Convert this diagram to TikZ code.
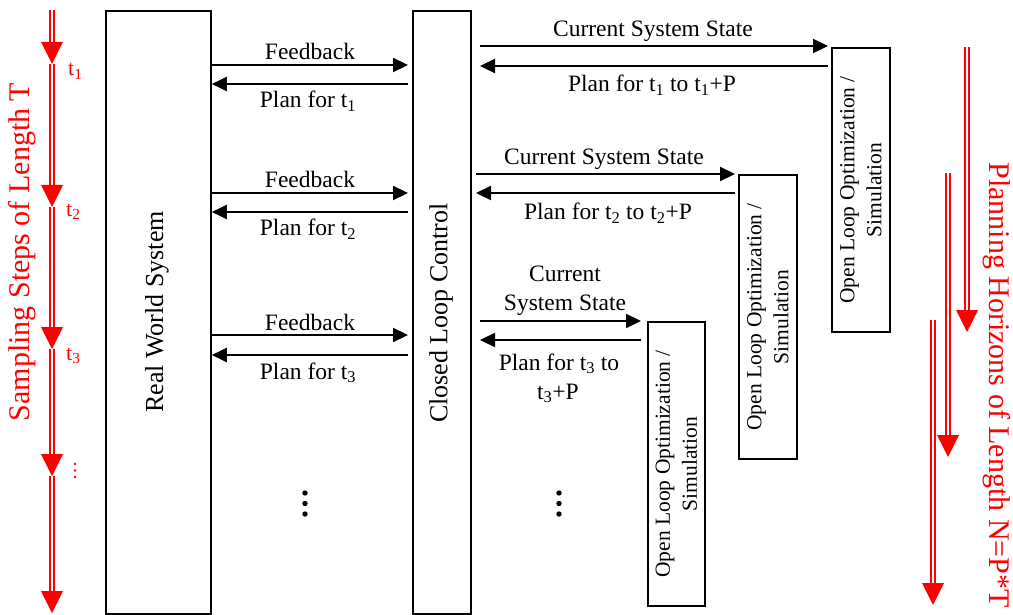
\documentclass[tikz,border=0pt]{standalone}
\usepackage{fontspec}
\setmainfont{Liberation Serif}
\usetikzlibrary{arrows.meta}
\begin{document}
\begin{tikzpicture}[x=1pt,y=-1pt,
  box/.style={draw, line width=1.8pt, inner sep=0pt, anchor=north west},
  boxtext/.style={rotate=90, inner sep=0pt, font=\fontsize{26}{30}\selectfont},
  olotext/.style={rotate=90, inner sep=0pt, align=center, font=\fontsize{21.5}{27}\selectfont},
  arr/.style={line width=2.2pt, -{Triangle[length=15pt,width=14pt]}},
  lbl/.style={inner sep=0pt, anchor=base, font=\fontsize{23.5}{28}\selectfont},
  rshaft/.style={draw=red, double=white, double distance=2.3pt, line width=2.3pt, shorten >=18pt},
  redhead/.style={fill=red},
  tlbl/.style={red, inner sep=0pt, anchor=base west, font=\fontsize{22}{26}\selectfont}]
\useasboundingbox (0,0) rectangle (1013,615);

% boxes
\node[box, minimum width=105pt, minimum height=603pt] (rws) at (105,10) {};
\node[boxtext] (rwst) at (157,312) {Real World System};
\node[box, minimum width=58pt, minimum height=603pt] (clc) at (412,10) {};
\node[boxtext] (clct) at (441,313) {Closed Loop Control};
\node[box, minimum width=58pt, minimum height=284pt] (olo1) at (831,47) {};
\node[olotext] (olo1t) at (olo1.center) {Open Loop Optimization /\\Simulation};
\node[box, minimum width=58pt, minimum height=284pt] (olo2) at (738,174) {};
\node[olotext] (olo2t) at (olo2.center) {Open Loop Optimization /\\Simulation};
\node[box, minimum width=57pt, minimum height=284pt] (olo3) at (647,321) {};
\node[olotext] (olo3t) at (olo3.center) {Open Loop Optimization /\\Simulation};

% left arrows
\coordinate (f1) at (408,65);  \coordinate (p1) at (408,84);
\coordinate (f2) at (408,193); \coordinate (p2) at (408,212);
\coordinate (f3) at (408,335); \coordinate (p3) at (408,355);
\draw[arr] (rws.east |- f1) -- (f1);
\draw[arr] (p1) -- (rws.east |- p1);
\draw[arr] (rws.east |- f2) -- (f2);
\draw[arr] (p2) -- (rws.east |- p2);
\draw[arr] (rws.east |- f3) -- (f3);
\draw[arr] (p3) -- (rws.east |- p3);
\node[lbl] (fb1) at (310,60) {Feedback};
\node[lbl] (pl1) at (308,108) {Plan for t\textsubscript{1}};
\node[lbl] (fb2) at (310,188) {Feedback};
\node[lbl] (pl2) at (308,236) {Plan for t\textsubscript{2}};
\node[lbl] (fb3) at (310,330) {Feedback};
\node[lbl] (pl3) at (308,379) {Plan for t\textsubscript{3}};

% right arrows
\coordinate (r1a) at (480,46); \coordinate (r1b) at (828,46);
\coordinate (r1c) at (828,66); \coordinate (r1d) at (480,66);
\coordinate (r2a) at (476,174); \coordinate (r2b) at (735,174);
\coordinate (r2c) at (735,193); \coordinate (r2d) at (476,193);
\coordinate (r3a) at (480,321); \coordinate (r3b) at (641,321);
\coordinate (r3c) at (641,340); \coordinate (r3d) at (480,340);
\draw[arr] (r1a) -- (r1b);
\draw[arr] (r1c) -- (r1d);
\draw[arr] (r2a) -- (r2b);
\draw[arr] (r2c) -- (r2d);
\draw[arr] (r3a) -- (r3b);
\draw[arr] (r3c) -- (r3d);
\node[lbl] (cs1) at (653,37) {Current System State};
\node[lbl] (pp1) at (652,92) {Plan for t\textsubscript{1} to t\textsubscript{1}+P};
\node[lbl] (cs2) at (604,165) {Current System State};
\node[lbl] (pp2) at (608,220) {Plan for t\textsubscript{2} to t\textsubscript{2}+P};
\node[lbl] (cs3a) at (565,281) {Current};
\node[lbl] (cs3b) at (565,310) {System State};
\node[lbl] (pp3a) at (559,370) {Plan for t\textsubscript{3} to};
\node[lbl] (pp3b) at (558,399) {t\textsubscript{3}+P};

% ellipsis dots
\foreach \yy in {493,503.5,514} {
  \fill (305,\yy) circle (2.7);
  \fill (559,\yy) circle (2.7);
}

% left red chain
\coordinate (s0) at (52,10);
\coordinate (s1) at (52,64);
\coordinate (s2) at (52,207);
\coordinate (s3) at (52,349);
\coordinate (s4) at (52,476);
\coordinate (s5) at (52,613);
\foreach \a/\b in {s0/s1,s1/s2,s2/s3,s3/s4,s4/s5} {
  \draw[rshaft] (\a) -- (\b);
  \fill[redhead] (\b) -- ++(-11,-22) -- ++(22,0) -- cycle;
}
\node[tlbl] (t1) at (68,76) {t\textsubscript{1}};
\node[tlbl] (t2) at (66,216) {t\textsubscript{2}};
\node[tlbl] (t3) at (66,360) {t\textsubscript{3}};
\foreach \yy in {464,470.5,477} { \fill[red] (75,\yy) circle (1.4); }
\node[red, rotate=90, inner sep=0pt, font=\fontsize{30}{36}\selectfont] (samp) at (22,252) {Sampling Steps of Length T};

% right red arrows
\coordinate (h1a) at (967,47);  \coordinate (h1b) at (967,332);
\coordinate (h2a) at (948,173); \coordinate (h2b) at (948,457);
\coordinate (h3a) at (933,320); \coordinate (h3b) at (933,605);
\foreach \a/\b in {h1a/h1b,h2a/h2b,h3a/h3b} {
  \draw[rshaft] (\a) -- (\b);
  \fill[redhead] (\b) -- ++(-11,-22) -- ++(22,0) -- cycle;
}
\node[red, rotate=-90, inner sep=0pt, font=\fontsize{30}{36}\selectfont] (plan) at (997,385) {Planning Horizons of Length N=P*T};
\end{tikzpicture}
\end{document}
